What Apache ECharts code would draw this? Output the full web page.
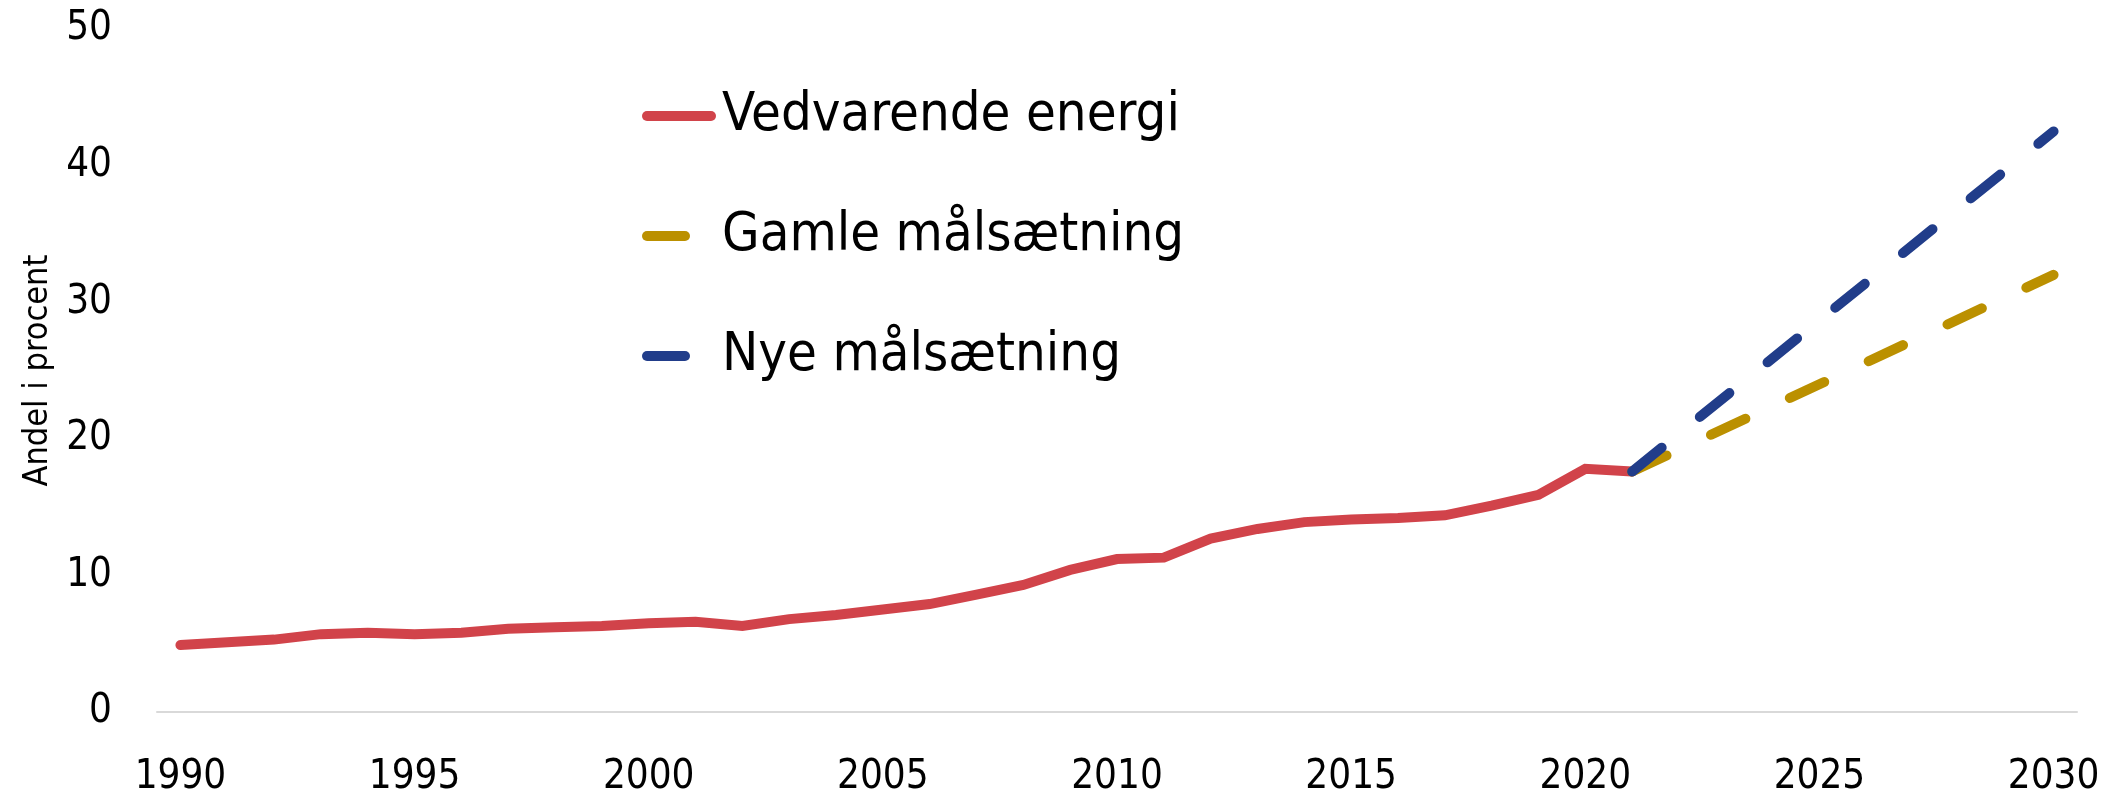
<!DOCTYPE html>
<html>
<head>
<meta charset="utf-8">
<style>
    html, body { margin: 0; padding: 0; background: #fff; }
    #andel-chart { width: 2108px; height: 792px; }
</style>
<script src="https://cdn.jsdelivr.net/npm/echarts@6/dist/echarts.min.js"></script>
</head>
<body>
<div id="andel-chart"></div>
<script>
    // årstal 1990-2030
    var years = [];
    for (var y = 1990; y <= 2030; y++) years.push(String(y));

    // Vedvarende energi, 1990-2021 (andel i procent)
    var vedvarende = [4.9, 5.1, 5.3, 5.7, 5.8, 5.7, 5.8, 6.1, 6.2, 6.3, 6.5, 6.6, 6.3, 6.8, 7.1, 7.5, 7.9, 8.6, 9.3, 10.4, 11.2, 11.3, 12.7, 13.4, 13.9, 14.1, 14.2, 14.4, 15.1, 15.9, 17.8, 17.6];
    // målsætninger: kun start (2021) og slut (2030)
    var gamleStart = 17.6, gamleSlut = 32.0;
    var nyeStart = 17.6, nyeSlut = 42.5;

    var yTicks = [0, 10, 20, 30, 40, 50];

    var fontName = '"Liberation Sans Narrow", "DejaVu Sans Condensed", sans-serif';

    function padTo(arr) {
        var out = arr.slice();
        while (out.length < years.length) out.push(null);
        return out;
    }
    function target(start, end) {
        var out = [];
        for (var i = 0; i < years.length; i++) out.push(null);
        out[years.indexOf('2021')] = start;
        out[years.indexOf('2030')] = end;
        return out;
    }

    var myEcharts = echarts.init(document.getElementById('andel-chart'));
    myEcharts.setOption({
        animation: false,
        textStyle: { fontFamily: fontName },
        grid: { left: 157, right: 31, top: 29, bottom: 80, outerBoundsMode: 'none' },
        legend: {
            orient: 'vertical',
            left: 637,
            top: 77,
            itemWidth: 64,
            itemHeight: 12,
            itemGap: 52,
            lineStyle: { width: 10, cap: 'round' },
            itemStyle: { opacity: 0 },
            textStyle: { fontSize: 54, lineHeight: 68, color: '#000', fontFamily: fontName, padding: [0, 0, 0, 6] },
            data: ['Vedvarende energi', 'Gamle målsætning', 'Nye målsætning']
        },
        xAxis: {
            type: 'category',
            data: years,
            boundaryGap: true,
            axisLine: { lineStyle: { color: '#d9d9d9', width: 2 } },
            axisTick: { show: false },
            axisLabel: { interval: 4, margin: 46, fontSize: 40, color: '#000', fontFamily: fontName },
            splitLine: { show: false }
        },
        yAxis: {
            type: 'value',
            min: yTicks[0],
            max: yTicks[yTicks.length - 1],
            interval: 10,
            name: 'Andel i procent',
            nameLocation: 'middle',
            nameGap: 92,
            nameTextStyle: { fontSize: 34, color: '#000', fontFamily: fontName },
            axisLine: { show: false },
            axisTick: { show: false },
            splitLine: { show: false },
            axisLabel: { margin: 45, fontSize: 40, color: '#000', fontFamily: fontName }
        },
        series: [
            {
                name: 'Vedvarende energi',
                type: 'line',
                data: padTo(vedvarende),
                symbol: 'none',
                lineStyle: { color: '#d1434a', width: 10, cap: 'round', join: 'miter' },
                itemStyle: { color: '#d1434a' }
            },
            {
                name: 'Gamle målsætning',
                type: 'line',
                data: target(gamleStart, gamleSlut),
                connectNulls: true,
                symbol: 'none',
                lineStyle: { color: '#bb9000', width: 10, type: [38, 49], cap: 'round' },
                itemStyle: { color: '#bb9000' }
            },
            {
                name: 'Nye målsætning',
                type: 'line',
                data: target(nyeStart, nyeSlut),
                connectNulls: true,
                symbol: 'none',
                lineStyle: { color: '#213d8a', width: 10, type: [38, 49], cap: 'round' },
                itemStyle: { color: '#213d8a' }
            }
        ]
    });
</script>
</body>
</html>
